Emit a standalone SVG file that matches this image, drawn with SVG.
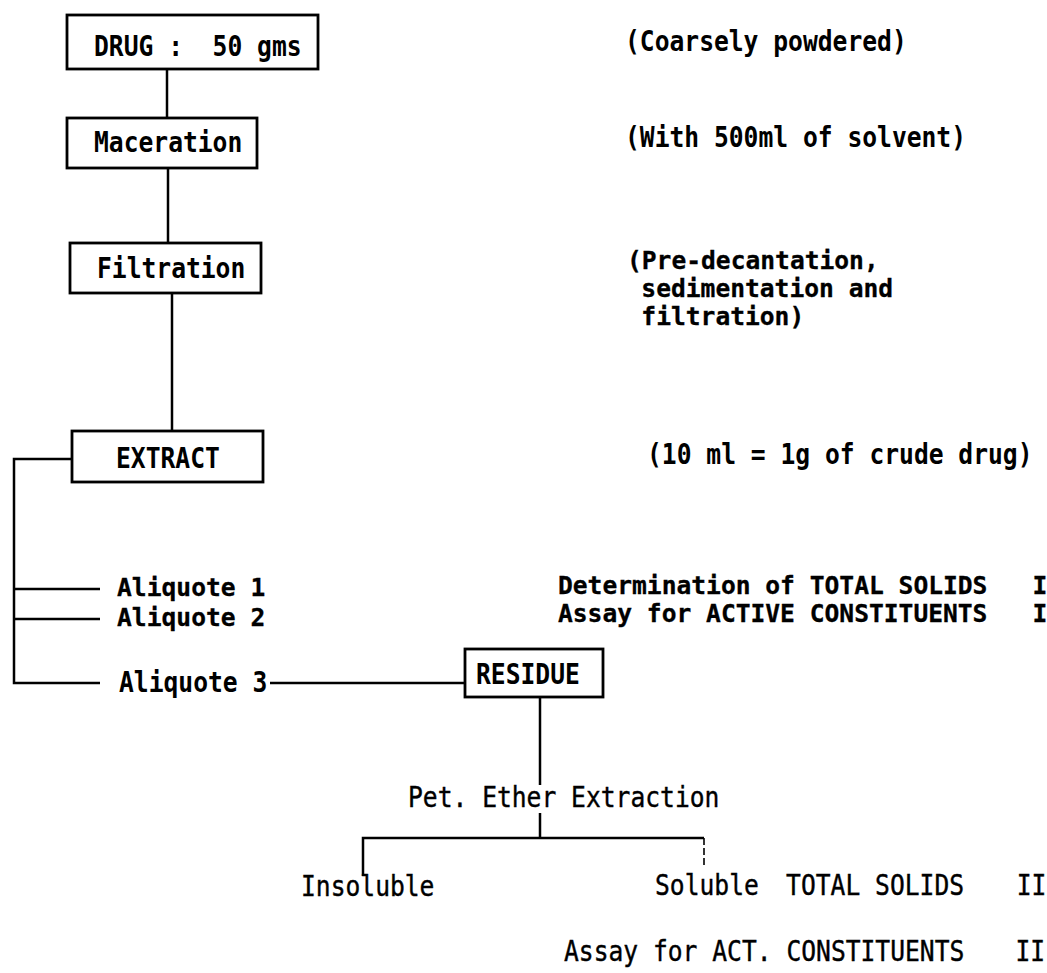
<svg xmlns="http://www.w3.org/2000/svg" width="1047" height="973" viewBox="0 0 1047 973">
<style>
  .bg { fill: #ffffff; }
  .box { fill: none; stroke: #000; stroke-width: 2.8; }
  .ln { fill: none; stroke: #000; stroke-width: 2.5; }
  .thin { fill: none; stroke: #000; stroke-width: 1.6; stroke-dasharray: 7 3; }
  .t { font-family: "DejaVu Sans Mono", "Liberation Mono", monospace; font-size: 28px; font-weight: bold; fill: #000; white-space: pre; }
  .a { font-family: "DejaVu Sans Mono", "Liberation Mono", monospace; font-size: 25.5px; font-weight: bold; fill: #000; stroke: #000; stroke-width: 0.3; white-space: pre; }
  .s { font-family: "DejaVu Sans Mono", "Liberation Mono", monospace; font-size: 24px; font-weight: bold; fill: #000; stroke: #000; stroke-width: 0.3; white-space: pre; }
  .l { font-family: "DejaVu Sans Mono", "Liberation Mono", monospace; font-size: 28px; font-weight: normal; fill: #000; stroke: #000; stroke-width: 0.4; white-space: pre; }
</style>
<rect class="bg" x="0" y="0" width="1047" height="973"/>

<g id="connectors">
  <path class="ln" d="M167,69 V118"/>
  <path class="ln" d="M168,168 V243"/>
  <path class="ln" d="M172,293 V431"/>
  <path class="ln" d="M72,459 H14 V683 H100"/>
  <path class="ln" d="M14,589 H100"/>
  <path class="ln" d="M14,619 H100"/>
  <path class="ln" d="M270,683 H465"/>
  <path class="ln" d="M540,697 V785"/>
  <path class="ln" d="M540,813 V838"/>
  <path class="ln" d="M363,876 V838 H704"/>
  <path class="thin" d="M704,838 V868"/>
</g>

<g id="drug">
  <rect class="box" x="67" y="15" width="251" height="54"/>
  <text class="t" transform="translate(94,56) scale(0.88 1)">DRUG :  50 gms</text>
</g>
<g id="maceration">
  <rect class="box" x="67" y="118" width="190" height="50"/>
  <text class="t" transform="translate(94,152) scale(0.88 1)">Maceration</text>
</g>
<g id="filtration">
  <rect class="box" x="70" y="243" width="191" height="50"/>
  <text class="t" transform="translate(97,278) scale(0.88 1)">Filtration</text>
</g>
<g id="extract">
  <rect class="box" x="72" y="431" width="191" height="51"/>
  <text class="t" transform="translate(116,468) scale(0.88 1)">EXTRACT</text>
</g>
<g id="aliquote1">
  <text class="a" transform="translate(117,596) scale(0.966 1)">Aliquote 1</text>
</g>
<g id="aliquote2">
  <text class="a" transform="translate(117,626) scale(0.966 1)">Aliquote 2</text>
</g>
<g id="aliquote3">
  <text class="t" transform="translate(119,692) scale(0.88 1)">Aliquote 3</text>
</g>
<g id="residue">
  <rect class="box" x="465" y="649" width="138" height="48"/>
  <text class="t" transform="translate(476,684) scale(0.88 1)">RESIDUE</text>
</g>
<g id="petether">
  <text class="l" transform="translate(408,807) scale(0.88 1)">Pet. Ether Extraction</text>
</g>
<g id="insoluble">
  <text class="l" transform="translate(301,896) scale(0.88 1)">Insoluble</text>
</g>
<g id="soluble">
  <text class="l" transform="translate(655,895) scale(0.88 1)"><tspan x="0" y="0">Soluble</tspan><tspan x="149" y="0">TOTAL SOLIDS</tspan><tspan x="411" y="0">II</tspan></text>
</g>
<g id="assay-act">
  <text class="l" transform="translate(564,961) scale(0.88 1)"><tspan x="0" y="0">Assay for ACT. CONSTITUENTS</tspan><tspan x="513" y="0">II</tspan></text>
</g>

<g id="notes">
  <text class="t" transform="translate(625,51) scale(0.88 1)">(Coarsely powdered)</text>
  <text class="t" transform="translate(625,147) scale(0.88 1)">(With 500ml of solvent)</text>
  <text class="s" transform="translate(627,269) scale(1.025 1)"><tspan x="0" y="0">(Pre-decantation,</tspan><tspan x="14" y="28">sedimentation and</tspan><tspan x="14" y="56">filtration)</tspan></text>
  <text class="t" transform="translate(647,464) scale(0.88 1)">(10 ml = 1g of crude drug)</text>
  <text class="s" transform="translate(558,594) scale(1.025 1)"><tspan x="0" y="0">Determination of TOTAL SOLIDS</tspan><tspan x="463" y="0">I</tspan><tspan x="0" y="28">Assay for ACTIVE CONSTITUENTS</tspan><tspan x="463" y="28">I</tspan></text>
</g>
</svg>
